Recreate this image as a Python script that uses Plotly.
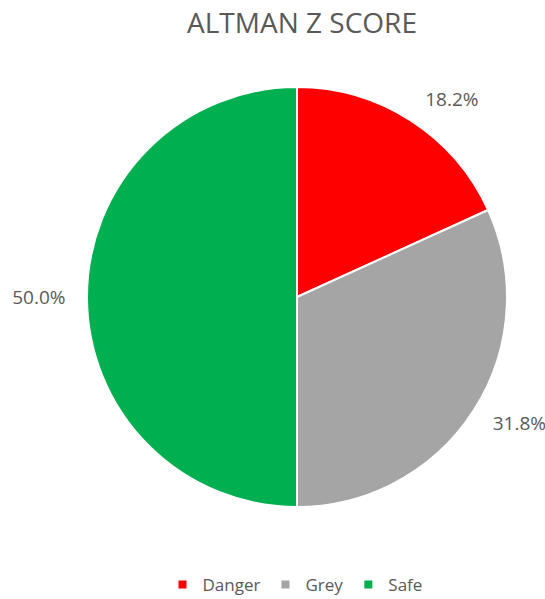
import plotly.graph_objects as go

categories = ["Danger", "Grey", "Safe"]
values = [18.2, 31.8, 50.0]
colors = ["#FF0000", "#A5A5A5", "#00B050"]

W, H = 545, 599
cx, cy, r = 297, 297, 210
r_lab = 225  # radius of invisible ring where labels sit

def dom(rad):
    return dict(x=[(cx - rad) / W, (cx + rad) / W], y=[1 - (cy + rad) / H, 1 - (cy - rad) / H])

fig = go.Figure()

# invisible ring used only to place the percentage labels slightly away from the pie
fig.add_trace(go.Pie(
    labels=categories, values=values, sort=False, direction="clockwise", rotation=0,
    marker=dict(colors=["rgba(0,0,0,0)"] * 3, line=dict(width=0)),
    texttemplate="%{percent:.1%}", textposition="outside",
    textfont=dict(family="Open Sans", size=19, color="#595959"),
    domain=dom(r_lab), showlegend=False, hoverinfo="skip",
))

fig.add_trace(go.Pie(
    labels=categories, values=values, sort=False, direction="clockwise", rotation=0,
    marker=dict(colors=colors, line=dict(color="white", width=2)),
    textinfo="none",
    domain=dom(r), showlegend=False,
))

for name, c in zip(categories, colors):
    fig.add_trace(go.Scatter(
        x=[None], y=[None], mode="markers", name=name,
        marker=dict(symbol="square", size=8, color=c),
    ))

fig.update_layout(
    width=W, height=H,
    margin=dict(l=0, r=0, t=0, b=0, autoexpand=False),
    paper_bgcolor="white",
    plot_bgcolor="white",
    xaxis=dict(visible=False),
    yaxis=dict(visible=False),
    title=dict(text="ALTMAN Z SCORE", x=302 / W, xanchor="center", y=1 - 23 / H, yanchor="middle",
               font=dict(family="Open Sans", size=28, color="#595959")),
    legend=dict(orientation="h", x=295 / W, xanchor="center", y=1 - 585 / H, yanchor="middle",
                font=dict(family="Open Sans", size=17, color="#595959"), itemwidth=30),
)

fig.write_html("out.html")
